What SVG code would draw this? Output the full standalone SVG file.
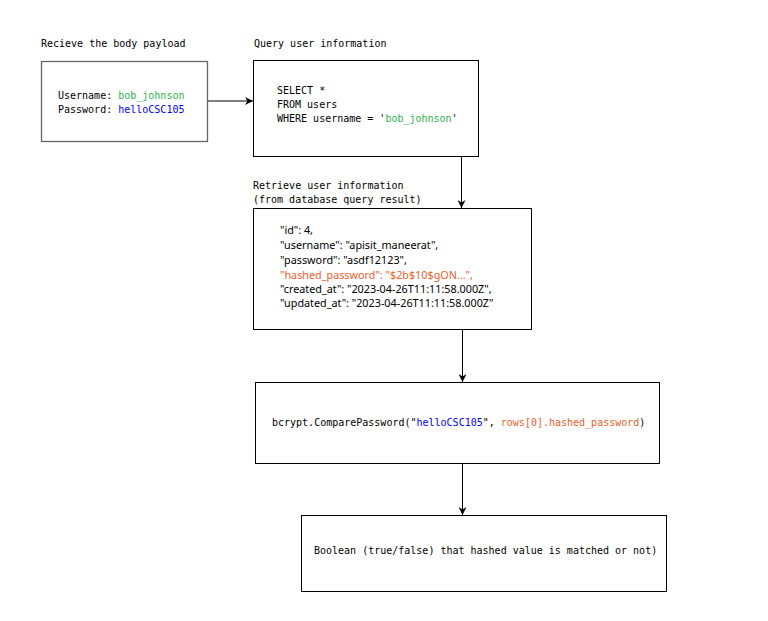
<svg xmlns="http://www.w3.org/2000/svg" width="768" height="621" viewBox="0 0 768 621">
<style>
.m{font-family:"DejaVu Sans Mono","Liberation Mono",monospace;font-size:10px;fill:#000}
.p{font-family:"Noto Sans","Open Sans",sans-serif;font-size:10.8px;fill:#000}
.box{fill:#fff;stroke:#000;stroke-width:1}
.g{fill:#2bb34b}
.b{fill:#0000ff}
.o{fill:#f0602c}
.c{stroke:#000;stroke-width:1;fill:none}
</style>
<defs>
<marker id="ah" viewBox="0 0 10 10" refX="10" refY="5" markerWidth="8" markerHeight="8" orient="auto" markerUnits="userSpaceOnUse">
<path d="M0,0 L10,5 L0,10 L3,5 Z" fill="#000"/>
</marker>
</defs>
<rect width="768" height="621" fill="#fff"/>
<text class="m" x="41" y="47">Recieve the body payload</text>
<text class="m" x="254" y="47">Query user information</text>
<text class="m" x="253" y="189">Retrieve user information</text>
<text class="m" x="253" y="203">(from database query result)</text>
<g id="connectors">
<line class="c" x1="208" y1="101" x2="253" y2="101" stroke="#555" marker-end="url(#ah)"/>
<line class="c" x1="461.5" y1="156" x2="461.5" y2="208" marker-end="url(#ah)"/>
<line class="c" x1="462.5" y1="329" x2="462.5" y2="382" marker-end="url(#ah)"/>
<line class="c" x1="462.5" y1="463" x2="462.5" y2="515" marker-end="url(#ah)"/>
</g>
<g id="payload">
<rect class="box" x="41.5" y="61.5" width="166" height="80" style="stroke:#666;stroke-width:1.3"/>
<text class="m" x="58" y="99">Username: <tspan class="g">bob_johnson</tspan></text>
<text class="m" x="58" y="113">Password: <tspan class="b">helloCSC105</tspan></text>
</g>
<g id="query">
<rect class="box" x="253.5" y="60.5" width="225" height="96"/>
<text class="m" x="277" y="94">SELECT *</text>
<text class="m" x="277" y="108">FROM users</text>
<text class="m" x="277" y="122">WHERE username = '<tspan class="g">bob_johnson</tspan>'</text>
</g>
<g id="result">
<rect class="box" x="253.5" y="208.5" width="278" height="121"/>
<text class="p" x="280" y="234">"id": 4,</text>
<text class="p" x="280" y="249">"username": "apisit_maneerat",</text>
<text class="p" x="280" y="264">"password": "asdf12123",</text>
<text class="p o" x="280" y="279">"hashed_password": "$2b$10$gON...",</text>
<text class="p" x="280" y="293">"created_at": "2023-04-26T11:11:58.000Z",</text>
<text class="p" x="280" y="307">"updated_at": "2023-04-26T11:11:58.000Z"</text>
</g>
<g id="compare">
<rect class="box" x="255.5" y="382.5" width="404" height="81"/>
<text class="m" x="272" y="426">bcrypt.ComparePassword("<tspan class="b">helloCSC105</tspan>", <tspan class="o">rows[0].hashed_password</tspan>)</text>
</g>
<g id="boolean">
<rect class="box" x="301.5" y="515.5" width="365" height="76"/>
<text class="m" x="314" y="554">Boolean (true/false) that hashed value is matched or not)</text>
</g>
</svg>
